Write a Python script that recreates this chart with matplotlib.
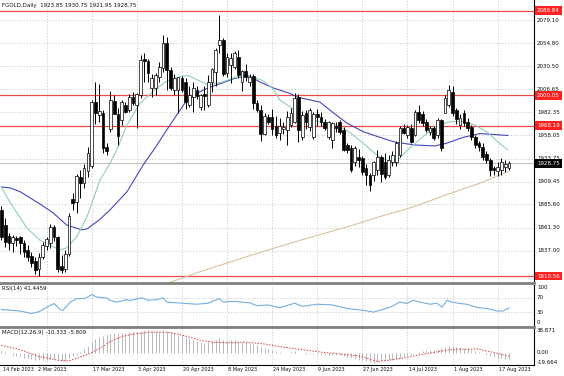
import matplotlib
matplotlib.use("Agg")
import matplotlib.pyplot as plt
import matplotlib.transforms as mtransforms
from matplotlib.lines import Line2D

# ---- data --------------------------------------------------------------
opens = [1880, 1864, 1853, 1845, 1850, 1851, 1845, 1838, 1832, 1826,
         1818, 1831, 1842, 1845, 1862, 1851, 1821, 1818, 1834, 1891,
         1888, 1914, 1908, 1921, 1926, 1993, 1979, 1982, 1946, 1965,
         1994, 1981, 1974, 1990, 1985, 1998, 1990, 2000, 2038, 2036,
         2008, 2008, 2019, 2029, 2055, 2027, 2006, 2006, 2018, 2014,
         1990, 1998, 2006, 1988, 2002, 1990, 2014, 2025, 2053, 2058,
         2024, 2032, 2030, 2040, 2014, 2026, 2014, 2020, 1992, 1985,
         1960, 1977, 1977, 1968, 1961, 1965, 1964, 1969, 1972, 1998,
         1956, 1982, 1967, 1956, 1981, 1977, 1972, 1956, 1953, 1968,
         1972, 1964, 1948, 1945, 1930, 1935, 1934, 1924, 1917, 1917,
         1922, 1935, 1930, 1917, 1930, 1930, 1937, 1966, 1959, 1966,
         1959, 1983, 1980, 1972, 1962, 1966, 1958, 1974, 1982, 1990,
         2004, 1985, 1969, 1982, 1972, 1967, 1956, 1950, 1946, 1939,
         1932, 1924, 1921, 1922, 1925, 1923.85]
highs = [1884, 1871, 1856, 1854, 1853, 1853, 1848, 1843, 1836, 1830,
         1835, 1846, 1852, 1865, 1864, 1853, 1833, 1838, 1877, 1898,
         1918, 1922, 1928, 1946, 1995, 2014, 2012, 1985, 1950, 2005,
         2000, 1987, 1995, 1993, 2001, 2004, 2003, 2042, 2044, 2038,
         2023, 2024, 2035, 2063, 2061, 2030, 2022, 2019, 2020, 2018,
         2010, 2014, 2010, 2002, 2010, 2021, 2029, 2050, 2084, 2060,
         2045, 2044, 2047, 2048, 2027, 2033, 2022, 2022, 1995, 1990,
         1982, 1980, 1986, 1978, 1976, 1972, 1984, 1987, 2003, 2002,
         1984, 1985, 1987, 1983, 1986, 1983, 1975, 1973, 1972, 1972,
         1974, 1967, 1950, 1948, 1947, 1944, 1936, 1928, 1919, 1931,
         1943, 1937, 1940, 1938, 1942, 1952, 1968, 1970, 1969, 1970,
         1985, 1990, 1984, 1975, 1968, 1968, 1976, 1975, 2000, 2011,
         2010, 1987, 1980, 1985, 1976, 1969, 1958, 1952, 1950, 1942,
         1934, 1926, 1930, 1934, 1932, 1930.75]
lows = [1848, 1841, 1838, 1836, 1842, 1834, 1830, 1826, 1820, 1813,
        1811, 1828, 1838, 1840, 1847, 1815, 1814, 1815, 1832, 1880,
        1877, 1892, 1903, 1914, 1924, 1970, 1972, 1940, 1937, 1962,
        1980, 1948, 1969, 1982, 1983, 1990, 1966, 1997, 2014, 2014,
        1998, 2000, 2014, 2025, 2006, 2006, 2000, 1982, 2004, 1986,
        1988, 1983, 1996, 1985, 1985, 1988, 2004, 2010, 2044, 2020,
        2019, 2013, 2028, 2018, 2005, 2015, 2010, 1986, 1983, 1952,
        1958, 1970, 1959, 1955, 1953, 1960, 1948, 1967, 1971, 1951,
        1953, 1965, 1963, 1954, 1968, 1968, 1964, 1954, 1945, 1962,
        1960, 1942, 1940, 1920, 1926, 1925, 1917, 1906, 1900, 1910,
        1917, 1909, 1912, 1914, 1926, 1926, 1935, 1960, 1955, 1950,
        1957, 1971, 1968, 1962, 1958, 1953, 1955, 1942, 1983, 1988,
        1978, 1970, 1965, 1968, 1963, 1953, 1945, 1942, 1932, 1929,
        1915, 1917, 1915, 1917, 1920, 1921.95]
closes = [1852, 1846, 1845, 1851, 1848, 1845, 1836, 1830, 1824, 1817,
          1831, 1843, 1849, 1862, 1851, 1818, 1817, 1834, 1874, 1887,
          1916, 1908, 1924, 1940, 1993, 1982, 1984, 1945, 1942, 1995,
          1981, 1957, 1993, 1983, 1998, 1992, 2002, 2037, 2036, 2024,
          2018, 2021, 2030, 2055, 2027, 2008, 2018, 2019, 2006, 1993,
          2000, 2008, 1999, 2000, 1999, 2014, 2028, 2048, 2058, 2022,
          2040, 2039, 2044, 2021, 2026, 2019, 2019, 1992, 1985, 1960,
          1978, 1972, 1965, 1958, 1968, 1967, 1977, 1982, 1997, 1964,
          1979, 1972, 1985, 1981, 1977, 1972, 1966, 1972, 1971, 1966,
          1962, 1943, 1943, 1922, 1945, 1932, 1920, 1917, 1906, 1930,
          1935, 1918, 1914, 1932, 1937, 1950, 1966, 1961, 1967, 1951,
          1983, 1974, 1971, 1964, 1966, 1955, 1974, 1945, 1997, 2006,
          1982, 1975, 1976, 1971, 1966, 1956, 1948, 1946, 1935, 1932,
          1922, 1922, 1925, 1930, 1928, 1928.75]

# moving averages, read at sample bars
ma_fast_idx = [0, 1.5, 3.6, 6.8, 10.3, 12.9, 15.6, 17.4, 20.1, 22.8, 26.2, 28.9,
               30.7, 33.4, 36.9, 40.3, 43.5, 47, 49.6, 52.3, 55, 58.7, 62.1, 65.6,
               69.3, 72, 74.1, 76.8, 80.2, 84.7, 89.3, 92.7, 96.2, 98.8, 100.7,
               104.7, 108.1, 111.9, 115.3, 118.8, 122, 126, 129.4, 132.1, 134.7]
ma_fast_val = [1904, 1893, 1880, 1861, 1848, 1843, 1838, 1840, 1852, 1873, 1911, 1929,
               1943, 1969, 1992, 2004, 2014, 2019, 2021, 2016, 2011, 2014, 2019, 2021,
               2016, 2008, 1995, 1988, 1977, 1972, 1969, 1961, 1950, 1941, 1935,
               1929, 1943, 1956, 1967, 1972, 1973, 1969, 1961, 1951, 1943]
ma_mid_idx = [0, 2.3, 5, 10.3, 13.7, 17.4, 21.4, 22.8, 26.2, 28.9, 33.4, 37.7, 41.4,
              43.5, 46.2, 48.8, 52.3, 55, 58.7, 62.1, 64.8, 66.1, 68.8, 72.2, 76.8,
              78.9, 84.7, 88.2, 91.9, 96.2, 100.7, 104.7, 110, 115.3, 118.5, 122.8,
              127.3, 134.7]
ma_mid_val = [1904, 1903, 1899, 1886, 1877, 1864, 1859, 1860, 1870, 1880, 1899, 1927, 1948,
              1961, 1977, 1992, 2003, 2008, 2013, 2018, 2020, 2020, 2014, 2008, 2002,
              1998, 1993, 1982, 1971, 1962, 1956, 1951, 1948, 1947, 1950, 1956,
              1960, 1958]
ma_slow_idx = [44.8, 52.8, 66.1, 79.4, 92.7, 100.7, 109.5, 118.5, 127.3, 134.7]
ma_slow_val = [1804, 1815, 1832, 1848, 1863, 1873, 1883, 1896, 1908, 1920]

rsi_idx = [0, 5, 8, 10, 11, 13, 14, 15.6, 16.4, 18.3, 20, 22.2, 24, 25.4, 27.9, 28.9,
           30.7, 33.4, 34, 37.4, 39, 41.4, 43, 44, 46.7, 49.4, 52, 55, 58, 59, 62, 66,
           68, 71, 74, 78, 80, 84, 88, 92, 96, 99, 100.7, 103.4, 106, 107.9, 109.5,
           111.3, 114, 115.8, 117.2, 118.5, 119.8, 122, 123.8, 126.5, 129.2, 131.8,
           133.4, 135]
rsi_val = [37, 33, 26, 31, 37, 49, 54, 37, 35, 58, 68, 68, 79, 72, 70, 63,
           58, 65, 62, 70, 63, 65, 70, 58, 56, 54, 52, 55, 68, 58, 60, 56,
           48, 50, 42, 55, 46, 52, 50, 40, 35, 30, 35, 44, 58, 54, 63,
           58, 52, 55, 44, 63, 58, 54, 52, 43, 40, 33,
           33, 41.4459]

macd_hist = [3, 1, -1, -3, -5, -6, -8, -9, -10, -11, -12, -12,
             -11, -10, -10, -12, -14, -13, -9, -6, -3, 1, 6, 11,
             18, 22, 25, 27, 28, 30, 31, 31, 32, 32, 33, 33,
             33, 35, 36, 36, 35, 35, 35, 36, 35, 33, 31, 29,
             27, 25, 23, 21, 19, 17, 16, 17, 19, 21, 23, 21,
             21, 21, 21, 19, 18, 17, 16, 14, 12, 9, 8, 6,
             4, 2, 1, 0, 0, 1, 2, 0, -1, -2, -2, -2,
             -2, -3, -3, -3, -3, -3, -4, -6, -7, -9, -10, -11,
             -12, -14, -15, -16, -15, -14, -13, -12, -11, -10, -8, -6,
             -5, -3, -1, 1, 3, 4, 5, 5, 6, 7, 9, 11,
             11, 10, 9, 8, 7, 5, 3, 1, -1, -3, -5, -7,
             -8, -9, -10, -10.333]
sig_idx = [0, 5, 10, 15, 18, 20, 24, 27, 29, 32, 35, 40, 44, 47, 50, 53, 56, 60, 65,
           70, 75, 80, 85, 90, 95, 100, 103, 108, 111, 116, 118.5, 121, 124, 126.5,
           129, 132, 135]
sig_val = [12, 5, -6, -12, -13, -9, 0, 10, 18, 26, 30, 33, 33, 30, 25, 20, 17, 16, 17,
           14, 9, 5, 1, -2, -5, -14, -12, -7.4, -3.6, 1.6, 4.3, 5.8, 5.4, 6.3,
           3, -1, -5.809]

date_labels = ["14 Feb 2023", "2 Mar 2023", "17 Mar 2023", "3 Apr 2023", "20 Apr 2023",
               "8 May 2023", "24 May 2023", "9 Jun 2023", "27 Jun 2023", "14 Jul 2023",
               "1 Aug 2023", "17 Aug 2023"]
date_pos = [0, 9.4, 24, 36, 48, 60, 72, 84, 96, 108, 120, 132]

price_ticks = [2079.10, 2054.80, 2030.50, 2006.65, 1982.35, 1958.05, 1933.75,
               1909.45, 1885.60, 1861.30, 1837.00]
red_levels = [2088.84, 2000.05, 1968.19, 1810.56]
last_price = 1928.75

# ---- layout (pixel based) ----------------------------------------------
W, H = 564, 376
plt.rcParams["font.family"] = ["DejaVu Sans"]
plt.rcParams["font.stretch"] = "condensed"
plt.rcParams["font.size"] = 4.4
plt.rcParams["text.color"] = "#111111"


def box(x0, y0, x1, y1):
    return [x0 / W, 1 - y1 / H, (x1 - x0) / W, (y1 - y0) / H]


fig = plt.figure(figsize=(W / 100, H / 100), dpi=100)
fig.patch.set_facecolor("white")

ax = fig.add_axes(box(0, 0, 534, 282))
ax_rsi = fig.add_axes(box(0, 284.5, 534, 326))
ax_macd = fig.add_axes(box(0, 328.5, 534, 365))

xlo, xhi = -0.37, 141.65
grid_kw = dict(color="#c8c8c8", lw=0.6, ls=(0, (1.5, 2)), zorder=0)
vgrid = [12 * k for k in range(1, 12)]

for a in (ax, ax_rsi, ax_macd):
    a.set_xlim(xlo, xhi)
    a.set_xticks([])
    a.set_yticks([])
    for s in ("left", "top", "bottom"):
        a.spines[s].set_visible(False)
    a.spines["right"].set_color("black")
    a.spines["right"].set_linewidth(0.8)
    for g in vgrid:
        a.axvline(g, **grid_kw)

# ---- main price panel --------------------------------------------------
ax.set_ylim(1804.3, 2100.1)
for p in price_ticks:
    ax.axhline(p, **grid_kw)

ax.axhline(last_price, color="#c0c0c0", lw=0.8, zorder=1)
for lv in red_levels:
    ax.axhline(lv, color="#f04848", lw=0.9, zorder=1)

ax.plot(ma_slow_idx, ma_slow_val, color="#d9c2a0", lw=0.8, zorder=2)
ax.plot(ma_mid_idx, ma_mid_val, color="#4646c0", lw=0.8, zorder=2)
ax.plot(ma_fast_idx, ma_fast_val, color="#8fd0b5", lw=0.8, zorder=2)

n = len(closes)
idx = list(range(n))
ax.vlines(idx, lows, highs, color="black", lw=0.7, zorder=3)
up = [i for i in idx if closes[i] >= opens[i]]
dn = [i for i in idx if closes[i] < opens[i]]
ax.bar(up, [closes[i] - opens[i] for i in up], bottom=[opens[i] for i in up],
       width=0.72, color="white", edgecolor="black", lw=0.5, zorder=4)
ax.bar(dn, [opens[i] - closes[i] for i in dn], bottom=[closes[i] for i in dn],
       width=0.72, color="black", edgecolor="black", lw=0.5, zorder=4)

tr = mtransforms.blended_transform_factory(ax.transAxes, ax.transData)
xl = 537 / 534
for p in price_ticks:
    ax.text(xl, p, f"{p:.2f}", transform=tr, va="center", ha="left", clip_on=False)
for lv in red_levels:
    ax.text(xl, lv, f"{lv:.2f}", transform=tr, va="center", ha="left", color="white",
            clip_on=False, bbox=dict(boxstyle="square,pad=0.3", fc="#ff2020", ec="none"))
ax.text(xl, last_price, f"{last_price:.2f}", transform=tr, va="center", ha="left",
        color="white", clip_on=False,
        bbox=dict(boxstyle="square,pad=0.3", fc="black", ec="none"))

ax.text(2 / 534, 1 - 6 / 282, "FGOLD,Daily  1923.85 1930.75 1921.95 1928.75",
        transform=ax.transAxes, va="center", ha="left")

# ---- RSI panel ---------------------------------------------------------
ax_rsi.set_ylim(-9.2, 107.5)
for lv in (70, 30):
    ax_rsi.axhline(lv, **grid_kw)
ax_rsi.plot(rsi_idx, rsi_val, color="#74aee0", lw=0.8)
trr = mtransforms.blended_transform_factory(ax_rsi.transAxes, ax_rsi.transData)
for lv in (100, 70, 30, 0):
    ax_rsi.text(xl, lv, str(lv), transform=trr, va="center", ha="left", clip_on=False)
ax_rsi.text(2 / 534, 0.9, "RSI(14) 41.4459", transform=ax_rsi.transAxes,
            va="center", ha="left")

# ---- MACD panel --------------------------------------------------------
ax_macd.set_ylim(-19.664, 38.871)
ax_macd.vlines(idx, 0, macd_hist, color="#b8b8b8", lw=0.7)
ax_macd.plot(sig_idx, sig_val, color="#e04040", lw=0.7, ls=(0, (1.5, 1.5)))
trm = mtransforms.blended_transform_factory(ax_macd.transAxes, ax_macd.transData)
ax_macd.text(xl, 38.871, "38.871", transform=trm, va="top", ha="left", clip_on=False)
ax_macd.text(xl, 0, "0.00", transform=trm, va="center", ha="left", clip_on=False)
ax_macd.text(xl, -19.664, "-19.664", transform=trm, va="bottom", ha="left", clip_on=False)
ax_macd.text(2 / 534, 0.9, "MACD(12,26,9) -10.333 -5.809", transform=ax_macd.transAxes,
             va="center", ha="left")
ax_macd.spines["bottom"].set_visible(True)
ax_macd.spines["bottom"].set_color("black")
ax_macd.spines["bottom"].set_linewidth(0.8)

dtr = mtransforms.blended_transform_factory(ax_macd.transData, ax_macd.transAxes)
for lab, pos in zip(date_labels, date_pos):
    ax_macd.text(pos + 0.3, -0.13, lab, transform=dtr, va="center", ha="left",
                 fontsize=4.0, clip_on=False)

# panel separators
for yy in (283.2, 327.3):
    fig.add_artist(Line2D([0, 534 / W], [1 - yy / H] * 2, color="#808080", lw=2.0))

fig.savefig("out.png", dpi=100, facecolor="white")
